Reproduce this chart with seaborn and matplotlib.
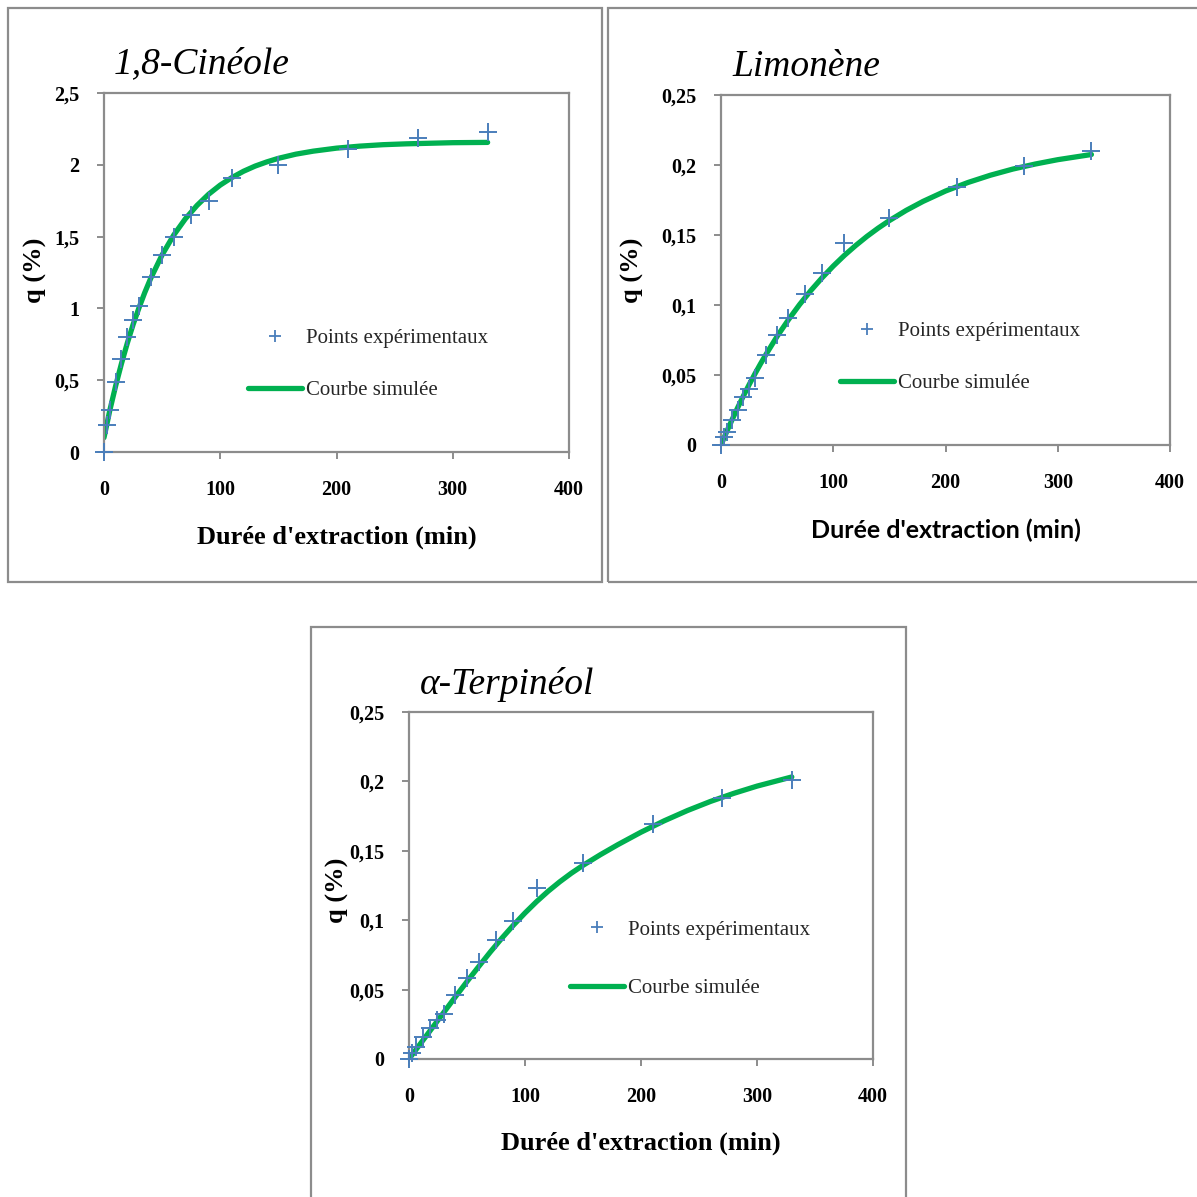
import matplotlib
matplotlib.use("Agg")
import matplotlib.pyplot as plt
import seaborn as sns
import pandas as pd
from matplotlib.lines import Line2D
from matplotlib.patches import Rectangle

# ---------------- data ----------------
t_exp = [0, 2.5, 5, 10, 15, 20, 25, 30, 40, 50, 60, 75, 90, 110, 150, 210, 270, 330]
t_exp_terp = [0, 3, 6, 12, 18, 24, 30, 40, 50, 60, 75, 90, 110, 150, 210, 270, 330]
cineole_exp = [0, 0.19, 0.29, 0.49, 0.65, 0.80, 0.92, 1.02, 1.22, 1.37, 1.50, 1.65,
               1.75, 1.91, 2.00, 2.11, 2.185, 2.23]
limonene_exp = [0, 0.006, 0.0095, 0.018, 0.025, 0.0345, 0.040, 0.0476, 0.064, 0.0786,
                0.0905, 0.108, 0.123, 0.144, 0.162, 0.184, 0.1996, 0.210]
terpineol_exp = [0, 0.0046, 0.0084, 0.016, 0.022, 0.028, 0.0324, 0.046, 0.058, 0.0697,
                 0.0857, 0.0996, 0.123, 0.141, 0.169, 0.188, 0.201]

t_sim = [0, 5, 10, 15, 20, 25, 30, 35, 40, 50, 60, 70, 80, 90, 100, 110, 120, 130, 140,
         150, 165, 180, 200, 220, 240, 260, 280, 300, 330]
cineole_sim = [0.10, 0.29, 0.46, 0.615, 0.757, 0.887, 1.002, 1.109, 1.206, 1.373, 1.511,
               1.624, 1.717, 1.795, 1.859, 1.911, 1.955, 1.991, 2.020, 2.045, 2.074, 2.095,
               2.116, 2.130, 2.140, 2.146, 2.150, 2.154, 2.156]
limonene_sim = [0, 0.0094, 0.0183, 0.0269, 0.0351, 0.0430, 0.0505, 0.0577, 0.0646, 0.0776,
                0.0894, 0.1003, 0.1103, 0.1194, 0.1278, 0.1355, 0.1425, 0.1490, 0.1549,
                0.1603, 0.1676, 0.1740, 0.1814, 0.1875, 0.1927, 0.1971, 0.2007, 0.2038,
                0.2075]
terpineol_sim = [0, 0.0056, 0.0112, 0.0168, 0.0224, 0.028, 0.0336, 0.0392, 0.0448, 0.0558,
                 0.0665, 0.077, 0.087, 0.0964, 0.1052, 0.1134, 0.1209, 0.1277, 0.1339,
                 0.1395, 0.1472, 0.1544, 0.1634, 0.1716, 0.179, 0.1856, 0.1914, 0.1966,
                 0.2032]

titles = ["1,8-Cinéole", "Limonène", "α-Terpinéol"]
x_ticks = [0, 100, 200, 300, 400]
x_ticklabels = ["0", "100", "200", "300", "400"]
y_ticks_big = [0, 0.5, 1, 1.5, 2, 2.5]
y_ticklabels_big = ["0", "0,5", "1", "1,5", "2", "2,5"]
y_ticks_small = [0, 0.05, 0.1, 0.15, 0.2, 0.25]
y_ticklabels_small = ["0", "0,05", "0,1", "0,15", "0,2", "0,25"]
xlabel = "Durée d'extraction (min)"
ylabel = "q (%)"
leg_points = "Points expérimentaux"
leg_curve = "Courbe simulée"

# ---------------- style ----------------
sns.set_theme(style="white")
plt.rcParams["font.family"] = ["Liberation Serif", "DejaVu Serif"]

W = H = 1197
fig = plt.figure(figsize=(W / 100, H / 100), dpi=100)

BLUE = "#4a7ebb"
GREEN = "#00b050"
GRAY = "#8c8c8c"


def fig_rect(x0, y0, x1, y1):
    return [x0 / W, 1 - y1 / H, (x1 - x0) / W, (y1 - y0) / H]


# panel frames
for (x0, y0, x1, y1) in [(8, 8, 602, 582), (608, 8, 1200, 582), (311, 627, 906, 1200)]:
    fig.add_artist(Rectangle((x0 / W, 1 - y1 / H), (x1 - x0) / W, (y1 - y0) / H,
                             transform=fig.transFigure, fill=False, ec=GRAY, lw=1.6))

panels = [
    dict(rect=(104, 93, 569, 452), texp=t_exp, qexp=cineole_exp, qsim=cineole_sim,
         yt=y_ticks_big, ytl=y_ticklabels_big, ymax=2.5, title=titles[0], tpos=(114, 64),
         leg=(0.31, 0.244), lspace=1.56, xl=-0.2368, yl=(-0.148, 0.507), sansx=False),
    dict(rect=(721, 95, 1170, 445), texp=t_exp, qexp=limonene_exp, qsim=limonene_sim,
         yt=y_ticks_small, ytl=y_ticklabels_small, ymax=0.25, title=titles[1], tpos=(732, 67),
         leg=(0.265, 0.251), lspace=1.56, xl=-0.243, yl=(-0.198, 0.5), sansx=True),
    dict(rect=(409, 712, 873, 1059), texp=t_exp_terp, qexp=terpineol_exp, qsim=terpineol_sim,
         yt=y_ticks_small, ytl=y_ticklabels_small, ymax=0.25, title=titles[2], tpos=(420, 685),
         leg=(0.347, 0.288), lspace=1.86, xl=-0.242, yl=(-0.155, 0.487), sansx=False),
]

for p in panels:
    ax = fig.add_axes(fig_rect(*p["rect"]))
    df_sim = pd.DataFrame({"t": t_sim, "q": p["qsim"]})
    df_exp = pd.DataFrame({"t": p["texp"], "q": p["qexp"]})
    sns.lineplot(data=df_sim, x="t", y="q", ax=ax, color=GREEN, lw=3.8,
                 solid_capstyle="round", solid_joinstyle="round", zorder=2)
    sns.scatterplot(data=df_exp, x="t", y="q", ax=ax, marker="+", s=160, color=BLUE,
                    linewidth=1.4, zorder=3, clip_on=False)
    ax.set_xlim(0, 400)
    ax.set_ylim(0, p["ymax"])
    ax.set_xticks(x_ticks)
    ax.set_xticklabels(x_ticklabels)
    ax.set_yticks(p["yt"])
    ax.set_yticklabels(p["ytl"])
    for lab in ax.get_xticklabels() + ax.get_yticklabels():
        lab.set_fontweight("bold")
        lab.set_fontsize(14.5)
        lab.set_color("black")
    ax.tick_params(axis="both", which="major", direction="out", length=5, width=1.4,
                   color=GRAY, left=True, bottom=True)
    ax.tick_params(axis="y", pad=13)
    ax.tick_params(axis="x", pad=15.5)
    for side in ["left", "bottom", "top", "right"]:
        ax.spines[side].set_visible(True)
        ax.spines[side].set_color(GRAY)
        ax.spines[side].set_linewidth(1.6)
    # axis labels
    if p["sansx"]:
        ax.set_xlabel(xlabel, fontsize=18, fontweight="bold", family=["Lato", "DejaVu Sans"],
                      va="center", color="black")
    else:
        ax.set_xlabel(xlabel, fontsize=19, fontweight="bold", va="center", color="black")
    ax.xaxis.set_label_coords(0.5, p["xl"])
    ax.set_ylabel(ylabel, fontsize=19, fontweight="bold", va="center", color="black")
    ax.yaxis.set_label_coords(*p["yl"])
    # title
    fig.text(p["tpos"][0] / W, 1 - p["tpos"][1] / H, p["title"], fontsize=27,
             style="italic", ha="left", va="center", color="black")
    # legend
    handles = [
        Line2D([], [], ls="none", marker="+", ms=9, mew=1.3, color=BLUE),
        Line2D([], [], color=GREEN, lw=3.8, solid_capstyle="round"),
    ]
    ax.legend(handles, [leg_points, leg_curve], loc="center left",
              bbox_to_anchor=p["leg"], frameon=False, fontsize=15, handlelength=2.6,
              handletextpad=0.2, labelspacing=p["lspace"], borderpad=0, borderaxespad=0)

fig.savefig("out.png", dpi=100, facecolor="white")
